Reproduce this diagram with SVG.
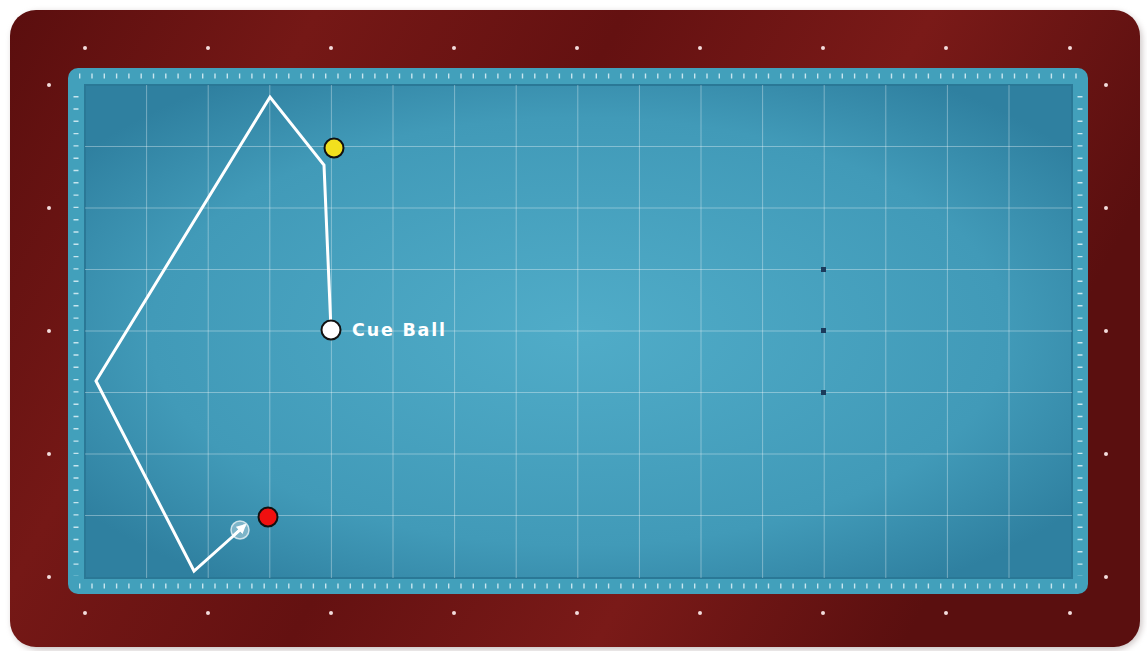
<svg xmlns="http://www.w3.org/2000/svg" width="1147" height="651" viewBox="0 0 1147 651">
  <defs>
    <radialGradient id="felt" cx="50%" cy="50%" r="62%">
      <stop offset="0" stop-color="#50acc8"/>
      <stop offset="0.7" stop-color="#419ab8"/>
      <stop offset="1" stop-color="#2f80a0"/>
    </radialGradient>
    <linearGradient id="wood" x1="0" y1="0" x2="1" y2="0.3">
      <stop offset="0" stop-color="#5a0e0e"/>
      <stop offset="0.25" stop-color="#751816"/>
      <stop offset="0.5" stop-color="#641111"/>
      <stop offset="0.75" stop-color="#7a1a18"/>
      <stop offset="1" stop-color="#5a0f0f"/>
    </linearGradient>
    <filter id="shadow" x="-5%" y="-5%" width="110%" height="110%">
      <feGaussianBlur stdDeviation="3"/>
    </filter>
    <marker id="arrow" viewBox="0 0 10 10" refX="8" refY="5" markerWidth="4" markerHeight="4" orient="auto">
      <path d="M0,0 L10,5 L0,10 z" fill="#ffffff"/>
    </marker>
    <style>
      .grid { stroke: #ffffff; stroke-opacity: 0.35; stroke-width: 1; }
      .dot { fill: #f3dcdc; }
      .tick { stroke: #e8f6fb; stroke-opacity: 0.8; stroke-width: 5; stroke-dasharray: 1.4 10.9; }
      .spot { fill: #1b3b5c; }
      .ball { stroke: #111; stroke-width: 2; }
      .label { font-family: "DejaVu Sans", sans-serif; font-weight: bold; font-size: 17.5px; fill: #ffffff; letter-spacing: 1.8px; }
    </style>
  </defs>

  <rect width="1147" height="651" fill="#ffffff"/>

  <g id="table">
    <rect x="12" y="12" width="1130" height="638" rx="28" fill="#9a8a8a" opacity="0.5" filter="url(#shadow)"/>
    <rect x="10" y="10" width="1130" height="637" rx="26" fill="url(#wood)"/>
    <rect x="68" y="68" width="1020" height="526" rx="10" fill="#42a0bb"/>
    <rect x="85" y="85" width="987" height="493" fill="url(#felt)"/>
    <rect x="85" y="85" width="987" height="493" fill="none" stroke="#2a7896" stroke-width="2"/>
  </g>

  <g id="rail-ticks">
    <line class="tick" x1="79" y1="76" x2="1080" y2="76"/>
    <line class="tick" x1="79" y1="586" x2="1080" y2="586"/>
    <line class="tick" x1="76" y1="96" x2="76" y2="576"/>
    <line class="tick" x1="1080" y1="96" x2="1080" y2="576"/>
  </g>

  <g id="diamonds">
    <circle class="dot" cx="85" cy="48" r="2"/>
    <circle class="dot" cx="208" cy="48" r="2"/>
    <circle class="dot" cx="331" cy="48" r="2"/>
    <circle class="dot" cx="454" cy="48" r="2"/>
    <circle class="dot" cx="577" cy="48" r="2"/>
    <circle class="dot" cx="700" cy="48" r="2"/>
    <circle class="dot" cx="823" cy="48" r="2"/>
    <circle class="dot" cx="946" cy="48" r="2"/>
    <circle class="dot" cx="1070" cy="48" r="2"/>
    <circle class="dot" cx="85" cy="613" r="2"/>
    <circle class="dot" cx="208" cy="613" r="2"/>
    <circle class="dot" cx="331" cy="613" r="2"/>
    <circle class="dot" cx="454" cy="613" r="2"/>
    <circle class="dot" cx="577" cy="613" r="2"/>
    <circle class="dot" cx="700" cy="613" r="2"/>
    <circle class="dot" cx="823" cy="613" r="2"/>
    <circle class="dot" cx="946" cy="613" r="2"/>
    <circle class="dot" cx="1070" cy="613" r="2"/>
    <circle class="dot" cx="49" cy="85" r="2"/>
    <circle class="dot" cx="49" cy="208" r="2"/>
    <circle class="dot" cx="49" cy="331" r="2"/>
    <circle class="dot" cx="49" cy="454" r="2"/>
    <circle class="dot" cx="49" cy="577" r="2"/>
    <circle class="dot" cx="1106" cy="85" r="2"/>
    <circle class="dot" cx="1106" cy="208" r="2"/>
    <circle class="dot" cx="1106" cy="331" r="2"/>
    <circle class="dot" cx="1106" cy="454" r="2"/>
    <circle class="dot" cx="1106" cy="577" r="2"/>
  </g>

  <g id="grid">
    <line class="grid" x1="146.6" y1="85" x2="146.6" y2="578"/>
    <line class="grid" x1="208.2" y1="85" x2="208.2" y2="578"/>
    <line class="grid" x1="269.8" y1="85" x2="269.8" y2="578"/>
    <line class="grid" x1="331.4" y1="85" x2="331.4" y2="578"/>
    <line class="grid" x1="393" y1="85" x2="393" y2="578"/>
    <line class="grid" x1="454.6" y1="85" x2="454.6" y2="578"/>
    <line class="grid" x1="516.2" y1="85" x2="516.2" y2="578"/>
    <line class="grid" x1="577.8" y1="85" x2="577.8" y2="578"/>
    <line class="grid" x1="639.4" y1="85" x2="639.4" y2="578"/>
    <line class="grid" x1="701" y1="85" x2="701" y2="578"/>
    <line class="grid" x1="762.6" y1="85" x2="762.6" y2="578"/>
    <line class="grid" x1="824.2" y1="85" x2="824.2" y2="578"/>
    <line class="grid" x1="885.8" y1="85" x2="885.8" y2="578"/>
    <line class="grid" x1="947.4" y1="85" x2="947.4" y2="578"/>
    <line class="grid" x1="1009" y1="85" x2="1009" y2="578"/>
    <line class="grid" x1="85" y1="146.5" x2="1072" y2="146.5"/>
    <line class="grid" x1="85" y1="208" x2="1072" y2="208"/>
    <line class="grid" x1="85" y1="269.5" x2="1072" y2="269.5"/>
    <line class="grid" x1="85" y1="331" x2="1072" y2="331"/>
    <line class="grid" x1="85" y1="392.5" x2="1072" y2="392.5"/>
    <line class="grid" x1="85" y1="454" x2="1072" y2="454"/>
    <line class="grid" x1="85" y1="515.5" x2="1072" y2="515.5"/>
  </g>

  <g id="spots">
    <rect class="spot" x="821" y="267" width="5" height="5"/>
    <rect class="spot" x="821" y="328" width="5" height="5"/>
    <rect class="spot" x="821" y="390" width="5" height="5"/>
  </g>

  <g id="connectors">
    <polyline points="331,330 324,165 270,97 96,381 194,571 240,530" fill="none" stroke="#ffffff" stroke-width="3" stroke-linejoin="miter"/>
    <circle cx="240" cy="530" r="9" fill="#ffffff" fill-opacity="0.35" stroke="#ffffff" stroke-opacity="0.7" stroke-width="1.5"/>
    <line x1="233" y1="536" x2="245" y2="525" stroke="#ffffff" stroke-width="2.5" marker-end="url(#arrow)"/>
  </g>

  <g id="yellow-ball">
    <circle class="ball" cx="334" cy="148" r="9.5" fill="#f2e01e"/>
  </g>
  <g id="red-ball">
    <circle class="ball" cx="268" cy="517" r="9.5" fill="#f01010"/>
  </g>
  <g id="cue-ball">
    <circle class="ball" cx="331" cy="330" r="9.5" fill="#ffffff"/>
    <text class="label" x="352" y="336">Cue Ball</text>
  </g>
</svg>
